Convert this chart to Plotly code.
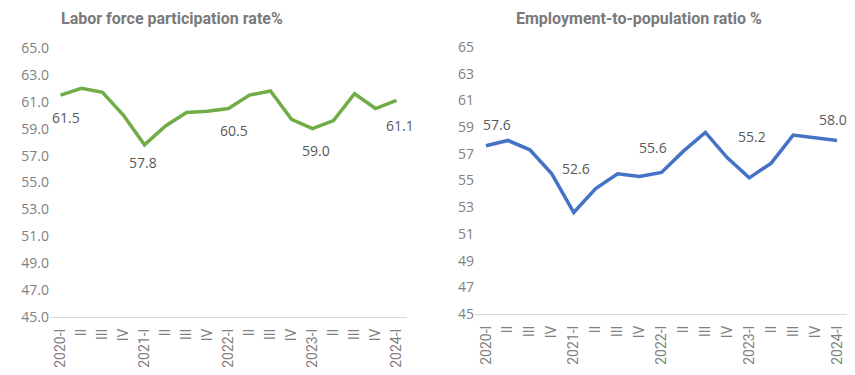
import plotly.graph_objects as go

quarters = ["2020-I", "II", "III", "IV", "2021-I", "II", "III", "IV",
            "2022-I", "II", "III", "IV", "2023-I", "II", "III", "IV", "2024-I"]

lfpr = [61.5, 62.0, 61.7, 60.0, 57.8, 59.2, 60.2, 60.3, 60.5,
        61.5, 61.8, 59.7, 59.0, 59.6, 61.6, 60.5, 61.1]

epr = [57.6, 58.0, 57.3, 55.5, 52.6, 54.4, 55.5, 55.3, 55.6,
       57.2, 58.6, 56.7, 55.2, 56.3, 58.4, 58.2, 58.0]

label_idx = [0, 4, 8, 12, 16]

left_title = "Labor force participation rate%"
right_title = "Employment-to-population ratio %"

# label placement (styling)
left_yshift = [-22, -18, -22, -22, -25]
left_xshift = [5, -2, 5, 3, 3]
right_yshift = [21, 44, 25, 41, 21]
right_xshift = [11, 2, -9, 3, -4]

# page body has an 8px margin; lay out in page pixels then convert
OX, OY = 8, 8
W, H = 855 - OX, 375 - OY


def px(x):
    return (x - OX) / W


def py(y):
    return 1 - (y - OY) / H


xs = list(range(len(quarters)))

fig = go.Figure()
fig.add_trace(go.Scatter(x=xs, y=lfpr, mode="lines",
                         line=dict(color="#70AD47", width=3.5),
                         xaxis="x", yaxis="y", hoverinfo="skip"))
fig.add_trace(go.Scatter(x=xs, y=epr, mode="lines",
                         line=dict(color="#4472C4", width=3.5),
                         xaxis="x2", yaxis="y2", hoverinfo="skip"))

tick_font = dict(family="Open Sans", size=14, color="#808080")
xtick_font = dict(family="Roboto", size=14, color="#808080")

common_x = dict(range=[-0.5, len(quarters) - 0.5], tickmode="array",
                tickvals=xs, ticktext=quarters, tickangle=-90,
                showgrid=False, zeroline=False, showline=True,
                linecolor="#D9D9D9", linewidth=1,
                ticks="outside", ticklen=5, tickcolor="rgba(0,0,0,0)",
                tickfont=xtick_font, automargin=False, fixedrange=True)

fig.update_layout(
    width=W, height=H,
    margin=dict(l=0, r=0, t=0, b=0),
    paper_bgcolor="white", plot_bgcolor="white",
    showlegend=False,
    xaxis=dict(domain=[px(50), px(407)], anchor="y", **common_x),
    yaxis=dict(domain=[py(317), py(48)], anchor="x",
               range=[45, 65], tickmode="array",
               tickvals=list(range(45, 66, 2)),
               ticktext=[f"{v:.1f}" for v in range(45, 66, 2)],
               showgrid=False, zeroline=False, showline=False,
               tickfont=tick_font, ticks="", automargin=False),
    xaxis2=dict(domain=[px(475), px(848)], anchor="y2", **common_x),
    yaxis2=dict(domain=[py(314), py(47)], anchor="x2",
                range=[45, 65], tickmode="array",
                tickvals=list(range(45, 66, 2)),
                ticktext=[f"{v}" for v in range(45, 66, 2)],
                showgrid=False, zeroline=False, showline=False,
                tickfont=tick_font, ticks="", automargin=False),
)

label_font = dict(family="Open Sans", size=14, color="#595959")
for k, i in enumerate(label_idx):
    fig.add_annotation(x=xs[i], y=lfpr[i], xref="x", yref="y",
                       text=f"{lfpr[i]:.1f}", showarrow=False,
                       yshift=left_yshift[k], xshift=left_xshift[k],
                       font=label_font)
    fig.add_annotation(x=xs[i], y=epr[i], xref="x2", yref="y2",
                       text=f"{epr[i]:.1f}", showarrow=False,
                       yshift=right_yshift[k], xshift=right_xshift[k],
                       font=label_font)

title_font = dict(family="Roboto", size=16, color="#7A7A7A")
fig.add_annotation(x=px(171.5), y=py(8), xref="paper", yref="paper",
                   text=f"<b>{left_title}</b>", showarrow=False,
                   xanchor="center", yanchor="top", borderpad=0,
                   font=title_font)
fig.add_annotation(x=px(639), y=py(8), xref="paper", yref="paper",
                   text=f"<b>{right_title}</b>", showarrow=False,
                   xanchor="center", yanchor="top", borderpad=0,
                   font=title_font)

fig.write_html("out.html")
